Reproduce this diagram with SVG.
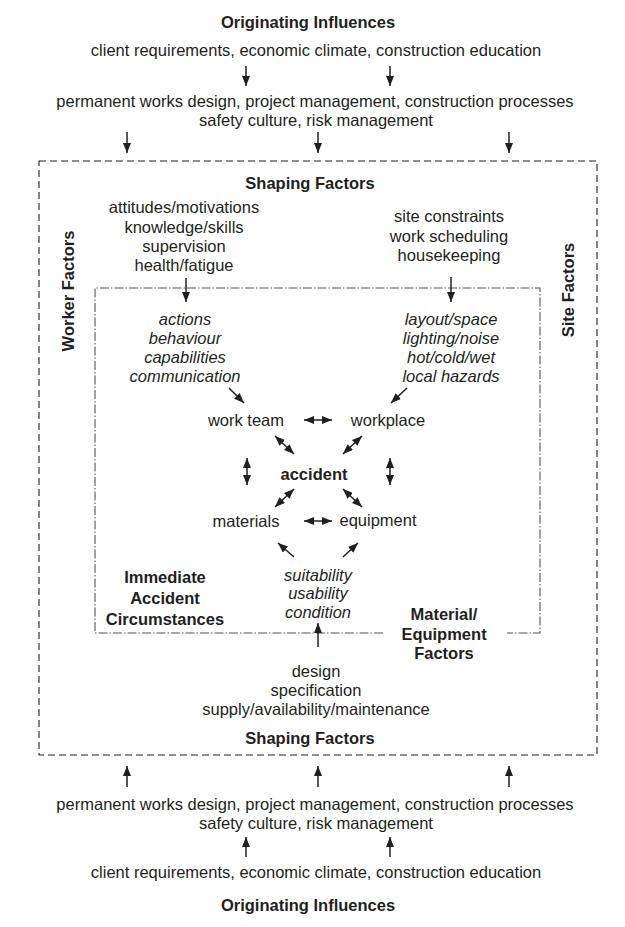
<svg xmlns="http://www.w3.org/2000/svg" width="625" height="927" viewBox="0 0 625 927">
<style>
text{font-family:"Liberation Sans",Arial,Helvetica,sans-serif;font-size:16.5px;fill:#231f20;text-anchor:middle}
.b{font-weight:bold}
.i{font-style:italic}
.ar{stroke:#231f20;stroke-width:1.5;fill:none;marker-end:url(#ah)}
.da{stroke:#231f20;stroke-width:1.5;fill:none;marker-start:url(#ah);marker-end:url(#ah)}
.outer{fill:none;stroke:#231f20;stroke-width:1.1;stroke-dasharray:7 4}
.inner{fill:none;stroke:#555;stroke-width:1.1;stroke-dasharray:9 2 1.5 2}
</style>
<defs>
<marker id="ah" viewBox="0 0 10 8" refX="10" refY="4" markerWidth="10" markerHeight="8" markerUnits="userSpaceOnUse" orient="auto-start-reverse">
<path d="M0,0 L10,4 L0,8 z" fill="#231f20"/>
</marker>
</defs>

<g id="boxes">
<rect class="outer" x="39" y="161" width="558" height="594"/>
<path class="inner" d="M383,633 H95 V288 H540 V633 H507"/>
</g>

<g id="top-originating"><text class="b" x="308" y="28">Originating Influences</text></g>
<g id="top-client"><text x="316" y="56">client requirements, economic climate, construction education</text></g>
<g id="top-permanent"><text x="315" y="107">permanent works design, project management, construction processes</text><text x="316" y="126">safety culture, risk management</text></g>

<g id="shaping-top"><text class="b" x="310" y="189">Shaping Factors</text></g>
<g id="worker-shaping"><text x="184" y="213">attitudes/motivations</text><text x="184" y="233">knowledge/skills</text><text x="184" y="252">supervision</text><text x="184" y="271">health/fatigue</text></g>
<g id="site-shaping"><text x="449" y="222">site constraints</text><text x="449" y="242">work scheduling</text><text x="449" y="261">housekeeping</text></g>
<g id="worker-factors"><text class="b" transform="translate(74,291) rotate(-90)">Worker Factors</text></g>
<g id="site-factors"><text class="b" transform="translate(574,290) rotate(-90)">Site Factors</text></g>

<g id="worker-immediate"><text class="i" x="185" y="325">actions</text><text class="i" x="185" y="344">behaviour</text><text class="i" x="185" y="363">capabilities</text><text class="i" x="185" y="382">communication</text></g>
<g id="site-immediate"><text class="i" x="451" y="325">layout/space</text><text class="i" x="451" y="344">lighting/noise</text><text class="i" x="451" y="363">hot/cold/wet</text><text class="i" x="451" y="382">local hazards</text></g>

<g id="work-team"><text x="246" y="426">work team</text></g>
<g id="workplace"><text x="388" y="426">workplace</text></g>
<g id="accident"><text class="b" x="314" y="480">accident</text></g>
<g id="materials"><text x="246" y="527">materials</text></g>
<g id="equipment"><text x="378" y="526">equipment</text></g>

<g id="equipment-immediate"><text class="i" x="318" y="581">suitability</text><text class="i" x="318" y="599">usability</text><text class="i" x="318" y="618">condition</text></g>
<g id="immediate-label"><text class="b" x="165" y="583">Immediate</text><text class="b" x="165" y="604">Accident</text><text class="b" x="165" y="625">Circumstances</text></g>
<g id="material-label"><text class="b" x="444" y="620">Material/</text><text class="b" x="444" y="640">Equipment</text><text class="b" x="444" y="659">Factors</text></g>
<g id="equipment-shaping"><text x="316" y="677">design</text><text x="316" y="696">specification</text><text x="316" y="715">supply/availability/maintenance</text></g>
<g id="shaping-bottom"><text class="b" x="310" y="744">Shaping Factors</text></g>

<g id="bottom-permanent"><text x="315" y="810">permanent works design, project management, construction processes</text><text x="316" y="829">safety culture, risk management</text></g>
<g id="bottom-client"><text x="316" y="878">client requirements, economic climate, construction education</text></g>
<g id="bottom-originating"><text class="b" x="308" y="911">Originating Influences</text></g>

<g id="connectors">
<line class="ar" x1="246" y1="66" x2="246" y2="86"/>
<line class="ar" x1="390" y1="66" x2="390" y2="86"/>
<line class="ar" x1="127" y1="132" x2="127" y2="153"/>
<line class="ar" x1="318" y1="132" x2="318" y2="153"/>
<line class="ar" x1="509" y1="132" x2="509" y2="153"/>
<line class="ar" x1="186" y1="278" x2="186" y2="302"/>
<line class="ar" x1="451" y1="277" x2="451" y2="302"/>
<line class="ar" x1="229" y1="388" x2="244" y2="403"/>
<line class="ar" x1="407" y1="388" x2="391" y2="403"/>
<line class="da" x1="304" y1="420" x2="332" y2="420"/>
<line class="da" x1="275" y1="436" x2="294" y2="454"/>
<line class="da" x1="362" y1="436" x2="343" y2="454"/>
<line class="da" x1="247" y1="458" x2="247" y2="485"/>
<line class="da" x1="390" y1="458" x2="390" y2="485"/>
<line class="da" x1="294" y1="489" x2="275" y2="507"/>
<line class="da" x1="343" y1="489" x2="362" y2="507"/>
<line class="da" x1="304" y1="521" x2="332" y2="521"/>
<line class="ar" x1="294" y1="557" x2="278" y2="543"/>
<line class="ar" x1="343" y1="557" x2="358" y2="543"/>
<line class="ar" x1="318" y1="647" x2="318" y2="623"/>
<line class="ar" x1="127" y1="787" x2="127" y2="766"/>
<line class="ar" x1="318" y1="787" x2="318" y2="766"/>
<line class="ar" x1="509" y1="787" x2="509" y2="766"/>
<line class="ar" x1="246" y1="857" x2="246" y2="837"/>
<line class="ar" x1="390" y1="857" x2="390" y2="837"/>
</g>
</svg>
